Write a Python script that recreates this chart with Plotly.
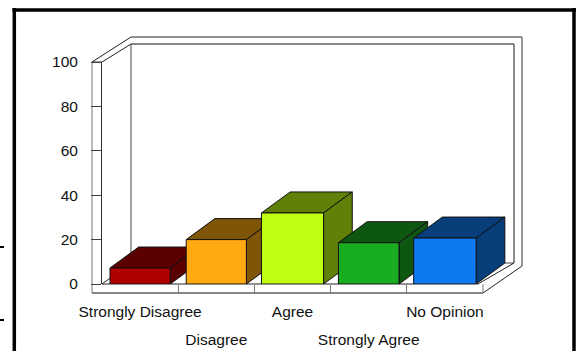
import plotly.graph_objects as go

categories = ["Strongly Disagree", "Disagree", "Agree", "Strongly Agree", "No Opinion"]
values = [7.2, 20, 32, 18.6, 20.7]
y_ticks = [0, 20, 40, 60, 80, 100]
bar_widths = [0.79, 0.79, 0.815, 0.795, 0.82]
front_colors = ["#B00000", "#FFAA11", "#BFFF0F", "#19AD22", "#0D7BEF"]
shade_colors = ["#5A0000", "#7F5508", "#608007", "#0D5711", "#073D78"]

W, H = 579, 351
L, R, T, B = 102, 523, 62, 284      # plot box includes the depth of the last bar
FLOOR_R = 483
STEP = (FLOOR_R - L) / 5
X_RANGE = [-0.5, -0.5 + (R - L) / STEP]
DX = 28.7 / STEP
DY = 21 / ((B - T) / 100)
FONT = dict(family="Liberation Sans, Arial, sans-serif", size=15.5, color="#111111")


def px(x):
    return (x - L) / (R - L)


def py(y):
    return (B - y) / (B - T)


def seg(x0, y0, x1, y1, color="#222222", width=1):
    return dict(type="line", xref="paper", yref="paper", x0=px(x0), y0=py(y0), x1=px(x1), y1=py(y1),
                line=dict(color=color, width=width), layer="below")


def face(xs, ys, color):
    return go.Scatter(x=xs, y=ys, mode="lines", fill="toself", fillcolor=color,
                      line=dict(color="#101010", width=1), cliponaxis=False,
                      hoverinfo="skip", showlegend=False)


fig = go.Figure()
for i, v in enumerate(values):
    a, b = i - bar_widths[i] / 2, i + bar_widths[i] / 2
    fig.add_trace(face([a, b, b + DX, a + DX, a], [v, v, v + DY, v + DY, v], shade_colors[i]))
    fig.add_trace(face([b, b + DX, b + DX, b, b], [0, DY, v + DY, v, 0], shade_colors[i]))
    fig.add_trace(face([a, b, b, a, a], [0, 0, v, v, 0], front_colors[i]))

# invisible trace that keeps the second label row's axis alive
fig.add_trace(go.Scatter(x=[0], y=[0], xaxis="x2", mode="markers", marker=dict(opacity=0),
                         hoverinfo="skip", showlegend=False))

shapes = [
    # outer frame
    seg(14.3, 8, 14.3, 351, "#000000", 3.5),
    seg(12.5, 10, 576, 10, "#000000", 3.5),
    seg(574, 8, 574, 351, "#000000", 3.5),
    seg(0, 247, 4, 247, "#000000", 2),
    seg(0, 320, 4, 320, "#000000", 2),
    # left wall
    seg(92, 62, 92, 293, "#777777", 1),
    seg(92, 62, 102, 62, "#333333", 1),
    seg(92, 62, 131, 37, "#222222", 1),
    seg(102, 62, 131, 44, "#222222", 1),
    seg(102, 284, 131, 263, "#222222", 1),
    # back wall
    seg(131, 37, 522, 37, "#222222", 1),
    seg(131, 44, 514, 44, "#111111", 1),
    seg(131, 44, 131, 263, "#444444", 1),
    seg(514, 44, 514, 263, "#666666", 1.5),
    seg(522, 37, 522, 266, "#777777", 1.5),
    seg(131, 263, 514, 263, "#444444", 1),
    # floor
    seg(102, 284, 478, 284, "#222222", 1),
    seg(92, 293, 483, 293, "#111111", 1),
    seg(483, 284, 483, 293, "#777777", 1),
    seg(483, 293, 522, 266, "#222222", 1),
    seg(478, 284, 514, 263, "#222222", 1),
]

fig.update_layout(
    width=W, height=H, autosize=False, paper_bgcolor="white", plot_bgcolor="rgba(0,0,0,0)",
    margin=dict(l=L, r=W - R, t=T, b=H - B, pad=0, autoexpand=False), showlegend=False, font=FONT, shapes=shapes,
    xaxis=dict(range=X_RANGE, tickmode="array", tickvals=[0, 2, 4],
               ticktext=[categories[0], categories[2], categories[4]], ticks="",
               tickfont=FONT, showgrid=False, zeroline=False, showline=False, automargin=False,
               ticklabelstandoff=16,
               minor=dict(tickmode="array", tickvals=[0.5, 1.5, 2.5, 3.5], ticks="outside",
                          ticklen=9, tickcolor="#777777", tickwidth=1, showgrid=False)),
    xaxis2=dict(range=X_RANGE, overlaying="x", side="bottom", anchor="y", tickmode="array",
                tickvals=[1, 3], ticktext=[categories[1], categories[3]], ticks="", tickfont=FONT,
                showgrid=False, zeroline=False, showline=False, automargin=False, ticklabelstandoff=44),
    yaxis=dict(range=[0, 100], tickmode="array", tickvals=y_ticks, ticks="outside", ticklen=10,
               tickcolor="#444444", tickwidth=1, tickfont=FONT, showgrid=False, zeroline=False,
               automargin=False, showline=True, linecolor="#333333", linewidth=1, ticklabelstandoff=10),
)
fig.write_html("out.html", config=dict(displayModeBar=False),
               post_script="document.body.style.margin='0';document.body.style.overflow='hidden';")
